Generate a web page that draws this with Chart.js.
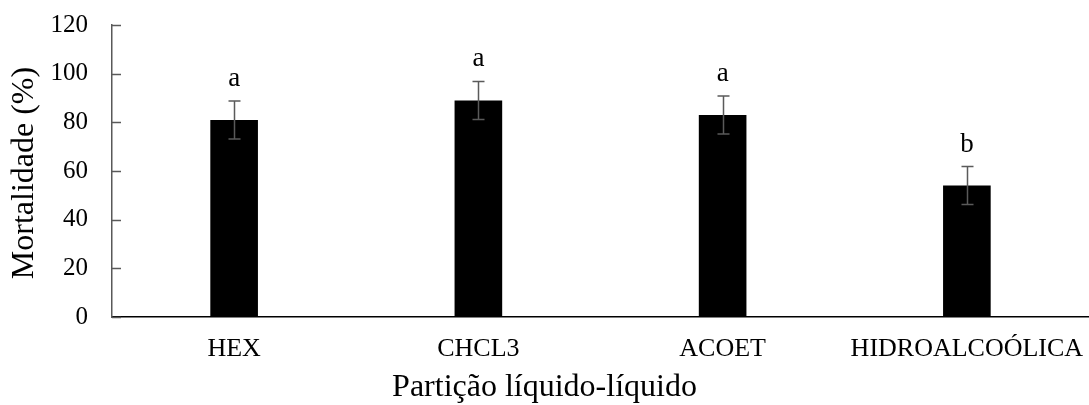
<!DOCTYPE html>
<html>
<head>
<meta charset="utf-8">
<script src="https://cdn.jsdelivr.net/npm/chart.js@4.4.1/dist/chart.umd.min.js"></script>
<style>
  html, body { margin: 0; padding: 0; background: #fff; }
  #wrap { width: 1089px; height: 405px; }
</style>
</head>
<body>
<div id="wrap"><canvas id="chart" width="1089" height="405"></canvas></div>
<script>
// Data
const categories = ['HEX', 'CHCL3', 'ACOET', 'HIDROALCOÓLICA'];
const mortality = [81, 89, 83, 54];
const stdDev = [7.8, 7.8, 7.8, 7.8];
const groupLetters = ['a', 'a', 'a', 'b'];
const yTicks = [0, 20, 40, 60, 80, 100, 120];
const xTitle = 'Partição líquido-líquido';
const yTitle = 'Mortalidade (%)';

const serif = '"Liberation Serif", "Times New Roman", serif';

// error bars, letters, inner ticks and axis titles
const extras = {
  id: 'extras',
  afterDatasetsDraw(chart) {
    const { ctx, chartArea } = chart;
    const x = chart.scales.x;
    const y = chart.scales.y;
    ctx.save();

    // inward tick marks on the y axis
    ctx.strokeStyle = '#595959';
    ctx.lineWidth = 1.5;
    yTicks.forEach(v => {
      const py = Math.round(y.getPixelForValue(v)) + 0.5;
      ctx.beginPath();
      ctx.moveTo(chartArea.left, py);
      ctx.lineTo(chartArea.left + 9, py);
      ctx.stroke();
    });

    // error bars
    ctx.strokeStyle = '#5a5a5a';
    ctx.lineWidth = 1.5;
    mortality.forEach((m, i) => {
      const cx = Math.round(x.getPixelForValue(i)) + 0.5;
      const top = y.getPixelForValue(m + stdDev[i]);
      const bot = y.getPixelForValue(m - stdDev[i]);
      ctx.beginPath();
      ctx.moveTo(cx, top);
      ctx.lineTo(cx, bot);
      ctx.moveTo(cx - 6, top);
      ctx.lineTo(cx + 6, top);
      ctx.moveTo(cx - 6, bot);
      ctx.lineTo(cx + 6, bot);
      ctx.stroke();
    });

    // significance letters
    ctx.fillStyle = '#000';
    ctx.font = '27px ' + serif;
    ctx.textAlign = 'center';
    ctx.textBaseline = 'alphabetic';
    mortality.forEach((m, i) => {
      const cx = x.getPixelForValue(i);
      const top = y.getPixelForValue(m + stdDev[i]);
      ctx.fillText(groupLetters[i], cx, top - 15);
    });

    // axis titles
    ctx.font = '32px ' + serif;
    ctx.fillText(xTitle, chart.width / 2, 396);
    ctx.translate(33, 173);
    ctx.rotate(-Math.PI / 2);
    ctx.fillText(yTitle, 0, 0);

    ctx.restore();
  }
};

new Chart(document.getElementById('chart'), {
  type: 'bar',
  data: {
    labels: categories,
    datasets: [{
      label: 'Mortalidade',
      data: mortality,
      backgroundColor: '#000',
      borderWidth: 0,
      categoryPercentage: 1,
      barPercentage: 0.195
    }]
  },
  options: {
    responsive: false,
    animation: false,
    devicePixelRatio: 1,
    layout: { padding: { top: 25, right: 0, left: 0, bottom: 0 } },
    plugins: {
      legend: { display: false },
      tooltip: { enabled: false }
    },
    scales: {
      x: {
        grid: { display: false, drawTicks: false },
        border: { color: '#000', width: 1.5 },
        ticks: {
          color: '#000',
          padding: 17,
          maxRotation: 0,
          autoSkip: false,
          font: { family: serif, size: 26 }
        },
        afterFit(scale) {
          scale.height = 88;
          scale.paddingLeft = 0;
          scale.paddingRight = 0;
        }
      },
      y: {
        min: 0,
        max: 120,
        grid: { display: false, drawTicks: false },
        border: { color: '#595959', width: 1.5 },
        ticks: {
          stepSize: 20,
          color: '#000',
          padding: 24,
          font: { family: serif, size: 25 }
        },
        afterFit(scale) {
          scale.width = 112;
          scale.paddingTop = 0;
          scale.paddingBottom = 0;
        }
      }
    }
  },
  plugins: [extras]
});
</script>
</body>
</html>
